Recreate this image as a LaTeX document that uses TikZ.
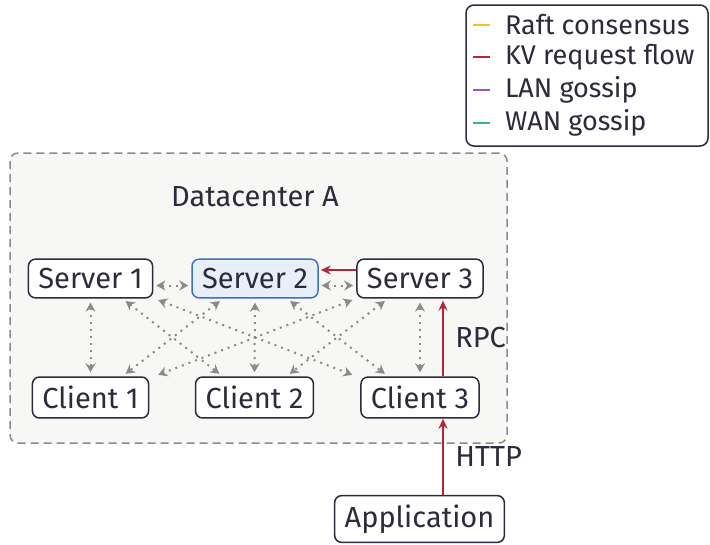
\documentclass[tikz,border=0pt]{standalone}
\usepackage{fontspec}
\setmainfont{Fira Sans}
\usetikzlibrary{arrows.meta}
\definecolor{ink}{HTML}{2B2B3B}
\definecolor{gossipgray}{HTML}{8A8A8A}
\definecolor{kvred}{HTML}{B3263A}
\definecolor{leaderblue}{HTML}{3B72C4}
\definecolor{leaderfill}{HTML}{E9EFF9}
\definecolor{dcfill}{HTML}{F7F7F5}
\definecolor{raftyellow}{HTML}{F5C22B}
\definecolor{lanpurple}{HTML}{9A55C2}
\definecolor{wangreen}{HTML}{3DB57A}
\begin{document}
\begin{tikzpicture}[x=1pt, y=-1pt,
    font=\fontsize{29}{34}\selectfont, text=ink,
    legendtext/.style={anchor=west, font=\fontsize{27}{32}\selectfont},
    box/.style={draw=ink, line width=1.5pt, rounded corners=7pt, fill=white,
        inner xsep=10pt, inner ysep=9pt},
    leader/.style={box, draw=leaderblue, fill=leaderfill},
    gossip/.style={draw=gossipgray, line width=2pt, dash pattern=on 2pt off 5pt,
        {Stealth[length=9pt,width=10pt]}-{Stealth[length=9pt,width=10pt]},
        shorten <=4pt, shorten >=4pt},
    request/.style={draw=kvred, line width=2pt, -{Stealth[length=10pt,width=9pt]}}]
    \useasboundingbox (0,0) rectangle (710,544);
    % legend
    \draw[ink, line width=1.5pt, rounded corners=8pt, fill=white] (466,5) rectangle (708,146);
    \draw[raftyellow, line width=2pt] (473,25) -- (490,25);
    \draw[kvred, line width=2pt] (473,57) -- (490,57);
    \draw[lanpurple, line width=2pt] (473,90) -- (490,90);
    \draw[wangreen, line width=2pt] (473,123) -- (490,123);
    \node[legendtext] (raft) at (501.5,25) {Raft consensus};
    \node[legendtext] (kv) at (501.5,57) {KV request flow};
    \node[legendtext] (lan) at (501.5,90) {LAN gossip};
    \node[legendtext] (wan) at (501.5,123) {WAN gossip};
    % datacenter
    \draw[gossipgray, line width=1.5pt, dash pattern=on 8pt off 5pt, rounded corners=8pt, fill=dcfill]
        (10,153) rectangle (507,443);
    \node (dc) at (255,197) {Datacenter A};
    \node[box] (S1) at (90.5,278.5) {Server 1};
    \node[leader] (S2) at (255,278.5) {Server 2};
    \node[box] (S3) at (420,278.5) {Server 3};
    \node[box] (C1) at (90.5,397.5) {Client 1};
    \node[box] (C2) at (254.5,397.5) {Client 2};
    \node[box] (C3) at (420,397.5) {Client 3};
    \node[box] (app) at (419.5,519) {Application};
    % LAN gossip inside the datacenter
    \draw[gossip, shorten <=3pt, shorten >=3pt] ([yshift=-7pt]S1.east) -- ([yshift=-7pt]S2.west);
    \draw[gossip, shorten <=3pt, shorten >=3pt] ([yshift=-7pt]S2.east) -- ([yshift=-7pt]S3.west);
    \foreach \i in {1,2,3} {
        \foreach \j in {1,2,3} {
            \draw[gossip] ([xshift={(\j-\i)*32pt}]S\i.south) -- ([xshift={(\i-\j)*32pt}]C\j.north);
        }
    }
    % request path
    \draw[request] ([xshift=23.5pt]app.north) -- ([xshift=23pt]C3.south)
        node[midway, right=8pt] (http) {HTTP};
    \draw[request, shorten >=2pt] ([xshift=23pt]C3.north) -- ([xshift=23pt]S3.south)
        node[midway, right=8pt] (rpc) {RPC};
    \draw[request, shorten >=2pt] ([yshift=8.5pt]S3.west) -- ([yshift=8.5pt]S2.east);
\end{tikzpicture}
\end{document}
